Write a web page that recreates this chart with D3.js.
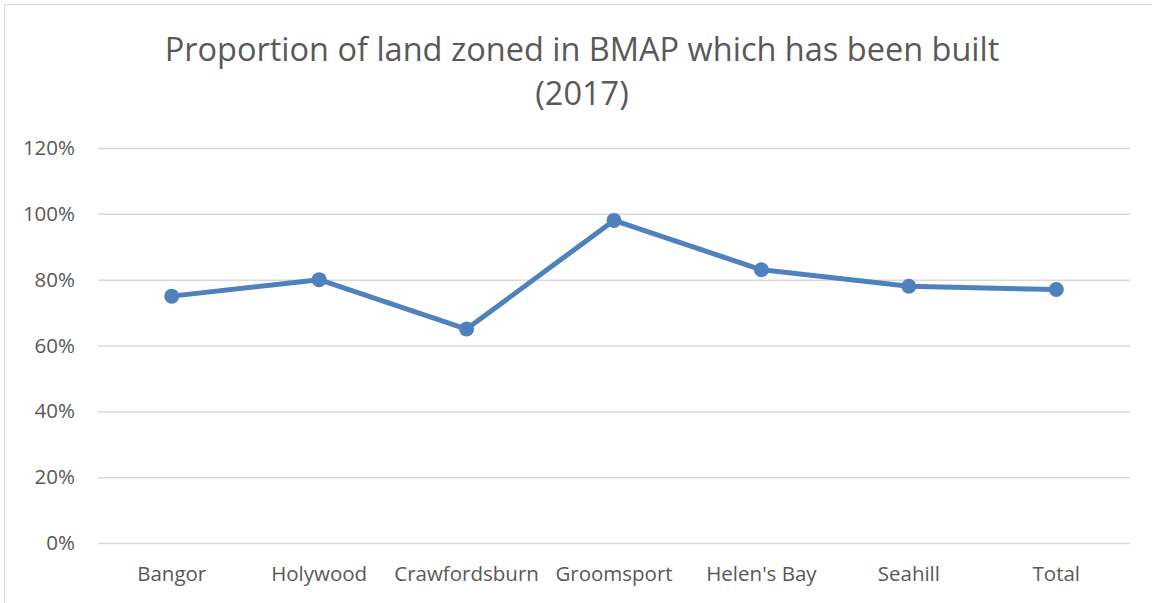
<!DOCTYPE html>
<html>
<head>
<meta charset="utf-8">
<script src="https://cdn.jsdelivr.net/npm/d3@7"></script>
<style>
  body { margin: 0; background: #fff; }
  text { font-family: "Open Sans", "Noto Sans", sans-serif; fill: #595959; }
</style>
</head>
<body>
<script>
const width = 1152;
const height = 603;
const margin = {top: 148, right: 22, bottom: 60, left: 98};

const categories = ["Bangor", "Holywood", "Crawfordsburn", "Groomsport", "Helen's Bay", "Seahill", "Total"];
const values = [0.75, 0.80, 0.65, 0.98, 0.83, 0.78, 0.77];
const yTicks = [0, 0.2, 0.4, 0.6, 0.8, 1.0, 1.2];
const titleLines = ["Proportion of land zoned in BMAP which has been built", "(2017)"];

const data = categories.map((c, i) => ({cat: c, value: values[i]}));

const x = d3.scaleBand()
  .domain(categories)
  .range([margin.left, width - margin.right]);

const y = d3.scaleLinear()
  .domain([0, 1.2])
  .range([height - margin.bottom, margin.top]);

const svg = d3.select('body').append('svg')
  .attr('width', width)
  .attr('height', height);

// chart border
svg.append('rect')
  .attr('x', 4.5).attr('y', 4.5)
  .attr('width', width + 10).attr('height', height + 10)
  .attr('fill', 'none')
  .attr('stroke', '#d9d9d9');

// title
svg.append('text')
  .attr('text-anchor', 'middle')
  .style('font-size', '32.5px')
  .selectAll('tspan')
  .data(titleLines)
  .join('tspan')
  .attr('x', 582)
  .attr('y', (d, i) => 61 + i * 44)
  .text(d => d);

const yAxis = g => g
  .attr('transform', `translate(${margin.left},0)`)
  .call(d3.axisLeft(y).tickValues(yTicks).tickFormat(d3.format('.0%')).tickSize(0).tickPadding(23))
  .call(g => g.select('.domain').remove())
  .call(g => g.selectAll('.tick line').clone()
    .attr('x2', width - margin.left - margin.right)
    .attr('stroke', '#d9d9d9')
    .attr('stroke-width', 1.5))
  .call(g => g.selectAll('.tick text')
    .style('font-size', '20.5px')
    .attr('fill', '#595959'));

const xAxis = g => g
  .attr('transform', `translate(0,${height - margin.bottom})`)
  .call(d3.axisBottom(x).tickSize(0).tickPadding(23))
  .call(g => g.select('.domain').remove())
  .call(g => g.selectAll('.tick text')
    .style('font-size', '20.5px')
    .attr('fill', '#595959'));

svg.append('g').call(yAxis);
svg.append('g').call(xAxis);

const line = d3.line()
  .x(d => x(d.cat) + x.bandwidth() / 2)
  .y(d => y(d.value));

svg.append('path')
  .datum(data)
  .attr('fill', 'none')
  .attr('stroke', '#4f81bd')
  .attr('stroke-width', 5)
  .attr('stroke-linejoin', 'round')
  .attr('d', line);

svg.append('g')
  .selectAll('circle')
  .data(data)
  .join('circle')
  .attr('cx', d => x(d.cat) + x.bandwidth() / 2)
  .attr('cy', d => y(d.value))
  .attr('r', 7.5)
  .attr('fill', '#4f81bd');
</script>
</body>
</html>
